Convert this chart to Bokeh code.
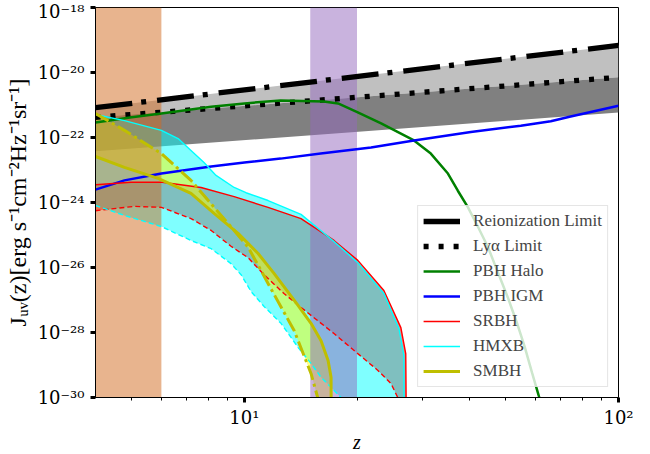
from bokeh.plotting import figure
from bokeh.models import (Range1d, FixedTicker, CustomJSTickFormatter, Legend,
                          LegendItem)
from bokeh.embed import file_html
from bokeh.resources import INLINE

FONT = "Liberation Serif"
TICK_FONT = "DejaVu Serif"

# ---------------- data ----------------
z_limits = [4.0, 100.0]
j_limits = [1e-30, 1e-18]

x_major_ticks = [10, 100]
x_minor_ticks = [5, 6, 7, 8, 9, 20, 30, 40, 50, 60, 70, 80, 90]
y_major_ticks = [1e-30, 1e-28, 1e-26, 1e-24, 1e-22, 1e-20, 1e-18]

band_early_z = [4.0, 6.0]
band_late_z = [15.0, 20.0]

limit_z = [4.0, 100.0]
reion_j = [8.3e-22, 6.8e-20]
lya_j = [4.2e-22, 7.1e-21]
lya_low_j = [3.8e-23, 5.9e-22]

halo_z = [4.0, 5.0, 6.0, 8.15, 10.0, 12.5, 16.3, 17.8, 20.1, 23.2, 28.4, 31.5,
          35.0, 37.2, 39.6, 42.1, 44.8, 47.6, 50.6, 53.5, 56.2, 58.7, 61.2, 62.0]
halo_j = [2.9e-22, 4.2e-22, 5.5e-22, 8.9e-22, 1.12e-21, 1.38e-21, 1.29e-21,
          1.12e-21, 5.9e-22, 2.7e-22, 8.1e-23, 3.2e-23, 7.8e-24, 2.3e-24,
          7.1e-25, 1.8e-25, 4.2e-26, 7.1e-27, 1.2e-27, 2.0e-28, 3.5e-29,
          5.9e-30, 1.15e-30, 6.6e-31]

igm_z = [4.0, 4.78, 6.0, 8.15, 10.0, 12.5, 16.0, 21.8, 28.4, 40.3, 54.8, 65.9,
         74.5, 100.0]
igm_j = [2.5e-24, 4.8e-24, 7.8e-24, 1.29e-23, 1.7e-23, 2.24e-23, 3.24e-23,
         4.9e-23, 8.1e-23, 1.48e-22, 2.3e-22, 3.16e-22, 4.4e-22, 9.5e-22]

srbh_hi_z = [4.0, 4.98, 6.03, 7.66, 9.39, 11.57, 14.17, 17.36, 20.1, 23.6,
             26.2, 27.0, 27.1]
srbh_hi_j = [3.5e-24, 4.2e-24, 4.2e-24, 2.9e-24, 1.51e-24, 7.1e-25, 3.2e-25,
             6.8e-26, 1.66e-26, 1.95e-27, 1.41e-28, 2.24e-29, 1e-31]
srbh_lo_z = [4.0, 5.08, 6.0, 7.2, 8.15, 9.21, 10.23, 11.29, 12.76, 14.17,
             17.36, 20.1, 22.75, 24.65, 25.7, 26.3]
srbh_lo_j = [5.6e-25, 7.6e-25, 7.1e-25, 3.2e-25, 1.38e-25, 4.5e-26, 2.0e-26,
             6.0e-27, 1.58e-27, 5.9e-28, 9.3e-29, 2.24e-29, 6.8e-30, 2.7e-30,
             1.0e-30, 1e-31]

hmxb_hi_z = [4.0, 4.78, 6.0, 6.65, 7.2, 7.8, 8.4, 9.39, 10.1, 11.57, 14.17,
             17.36, 20.1, 23.6, 25.9, 26.7, 26.75]
hmxb_hi_j = [5.1e-22, 3.3e-22, 1.66e-22, 9.3e-23, 4.0e-23, 1.7e-23, 6.8e-24,
             2.9e-24, 2.0e-24, 1.15e-24, 4.3e-25, 6.3e-26, 1.41e-26, 1.58e-27,
             1.3e-28, 1.95e-29, 1e-31]
hmxb_lo_z = [4.0, 4.78, 6.0, 7.2, 8.15, 9.21, 9.8, 10.42, 11.29, 12.53, 13.91,
             15.07, 16.03, 17.36, 18.13, 19.0]
hmxb_lo_j = [8.1e-25, 4.0e-25, 1.82e-25, 6.8e-26, 3.8e-26, 1.32e-26, 6.0e-27,
             1.82e-27, 6.3e-28, 1.91e-28, 3.5e-29, 1.12e-29, 4.2e-30, 1.66e-30,
             1.0e-30, 1e-31]

smbh_hi_z = [4.0, 4.78, 5.88, 7.2, 8.3, 9.62, 10.88, 12.0, 13.91, 15.07, 16.03,
             16.74, 17.05, 17.07]
smbh_hi_j = [2.6e-23, 1.2e-23, 5.5e-24, 1.9e-24, 4.6e-25, 1.12e-25, 2.7e-26,
             6.6e-27, 6.8e-28, 1.91e-28, 5.6e-29, 1.38e-29, 4.2e-30, 1e-31]
smbh_lo_z = [4.0, 4.78, 6.0, 7.2, 8.3, 9.39, 10.23, 11.08, 11.57, 13.58, 15.07,
             15.7, 15.9]
smbh_lo_j = [5.5e-22, 1.66e-22, 3.2e-23, 4.8e-24, 7.1e-25, 1.38e-25, 4.2e-26,
             8.1e-27, 3.2e-27, 1.15e-28, 5.5e-30, 1.0e-30, 1e-31]

# ---------------- figure ----------------
p = figure(x_axis_type="log", y_axis_type="log",
           x_range=Range1d(*z_limits), y_range=Range1d(*j_limits),
           frame_width=523, frame_height=390,
           min_border_left=95, min_border_right=24, min_border_top=7,
           min_border_bottom=20,
           output_backend="svg", toolbar_location=None)
p.grid.visible = False
p.outline_line_color = "black"
p.outline_line_width = 1

# grey limit bands
p.varea(x=limit_z, y1=lya_j, y2=reion_j, fill_color="#c0c0c0")
p.varea(x=limit_z, y1=lya_low_j, y2=lya_j, fill_color="#808080")

# source bands
p.patch(x=srbh_hi_z + srbh_lo_z[::-1], y=srbh_hi_j + srbh_lo_j[::-1],
        fill_color="red", fill_alpha=0.5, line_color=None)
p.patch(x=hmxb_hi_z + hmxb_lo_z[::-1], y=hmxb_hi_j + hmxb_lo_j[::-1],
        fill_color="cyan", fill_alpha=0.5, line_color=None)
p.patch(x=smbh_hi_z + smbh_lo_z[::-1], y=smbh_hi_j + smbh_lo_j[::-1],
        fill_color="yellow", fill_alpha=0.5, line_color=None)

# redshift windows
p.quad(left=[band_early_z[0]], right=[band_early_z[1]], bottom=[j_limits[0]],
       top=[j_limits[1]], fill_color="chocolate", fill_alpha=0.5, line_color=None)
p.quad(left=[band_late_z[0]], right=[band_late_z[1]], bottom=[j_limits[0]],
       top=[j_limits[1]], fill_color="#9467bd", fill_alpha=0.5, line_color=None)

# lines
r_reion = p.line(limit_z, reion_j, line_color="black", line_width=5.3,
                 line_dash="37 9 5 11")
r_lya = p.line(limit_z, lya_j, line_color="black", line_width=5.3,
               line_dash="5 10")
r_halo = p.line(halo_z, halo_j, line_color="green", line_width=2.5)
r_igm = p.line(igm_z, igm_j, line_color="blue", line_width=2.5)
r_srbh = p.line(srbh_hi_z, srbh_hi_j, line_color="red", line_width=1.4)
p.line(srbh_lo_z, srbh_lo_j, line_color="red", line_width=1.4, line_dash="5 3")
r_hmxb = p.line(hmxb_hi_z, hmxb_hi_j, line_color="cyan", line_width=1.4)
p.line(hmxb_lo_z, hmxb_lo_j, line_color="cyan", line_width=1.4, line_dash="5 3")
r_smbh = p.line(smbh_hi_z, smbh_hi_j, line_color="#bfbf00", line_width=3)
p.line(smbh_lo_z, smbh_lo_j, line_color="#bfbf00", line_width=3,
       line_dash="15 4 3 4")

# axes
sup_js = """
const sup = {'-': '\\u207b', '0': '\\u2070', '1': '\\u00b9', '2': '\\u00b2',
             '3': '\\u00b3', '4': '\\u2074', '5': '\\u2075', '6': '\\u2076',
             '7': '\\u2077', '8': '\\u2078', '9': '\\u2079'};
const e = Math.round(Math.log10(tick));
return '10' + String(e).split('').map(c => sup[c]).join('');
"""
p.xaxis.ticker = FixedTicker(ticks=x_major_ticks, minor_ticks=x_minor_ticks)
p.yaxis.ticker = FixedTicker(ticks=y_major_ticks, minor_ticks=[])
p.xaxis.formatter = CustomJSTickFormatter(code=sup_js)
p.yaxis.formatter = CustomJSTickFormatter(code=sup_js)

for ax in (p.xaxis[0], p.yaxis[0]):
    ax.axis_line_color = "black"
    ax.major_tick_in = 0
    ax.major_tick_out = 5
    ax.major_tick_line_width = 3
    ax.minor_tick_in = 0
    ax.minor_tick_out = 3
    ax.minor_tick_line_width = 1
    ax.major_label_text_font = TICK_FONT
    ax.major_label_text_font_size = "18px"
    ax.major_label_text_color = "black"
    ax.axis_label_text_font = FONT
    ax.axis_label_text_font_size = "24px"
    ax.axis_label_text_color = "black"

p.xaxis.major_label_standoff = 4
p.yaxis.major_label_standoff = 6
p.xaxis.axis_label = "z"
p.xaxis.axis_label_text_font_style = "italic"
p.xaxis.axis_label_text_font_size = "20px"
p.xaxis.axis_label_standoff = 0
p.yaxis.axis_label = "J\u1d64\u1d65(z)[erg s\u207b\u00b9cm\u207b\u00b2Hz\u207b\u00b9sr\u207b\u00b9]"
p.yaxis.axis_label_text_font_style = "normal"
p.yaxis.axis_label_standoff = 4

legend = Legend(items=[
    LegendItem(label="Reionization Limit", renderers=[r_reion]),
    LegendItem(label="Ly\u03b1 Limit", renderers=[r_lya]),
    LegendItem(label="PBH Halo", renderers=[r_halo]),
    LegendItem(label="PBH IGM", renderers=[r_igm]),
    LegendItem(label="SRBH", renderers=[r_srbh]),
    LegendItem(label="HMXB", renderers=[r_hmxb]),
    LegendItem(label="SMBH", renderers=[r_smbh]),
], location="bottom_right")
legend.label_text_font = FONT
legend.label_text_font_size = "17px"
legend.glyph_width = 37
legend.glyph_height = 20
legend.label_height = 20
legend.label_standoff = 13
legend.spacing = 5
legend.padding = 5
legend.margin = 10
legend.border_line_color = "#cccccc"
legend.background_fill_alpha = 0.8
p.add_layout(legend)

with open("out.html", "w", encoding="utf-8") as f:
    f.write(file_html(p, INLINE))
